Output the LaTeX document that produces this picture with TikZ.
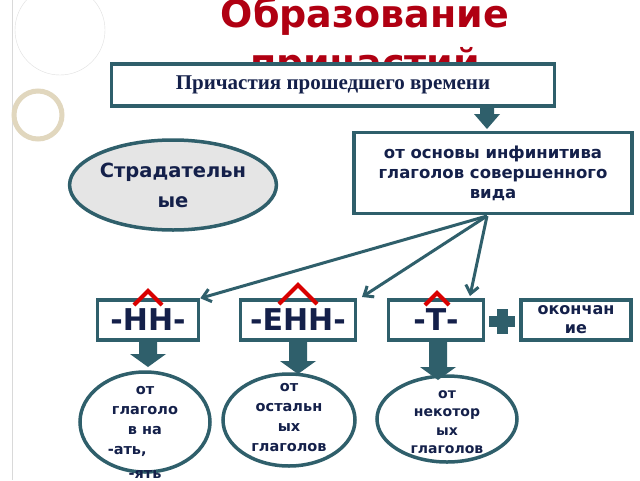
\documentclass[tikz,border=0pt]{standalone}
\usepackage{fontspec}
\setmainfont{Liberation Serif}
\newfontfamily\dv{DejaVu Sans}
\usetikzlibrary{shapes.geometric,arrows.meta}
\definecolor{teal1}{HTML}{2F5F6B}
\definecolor{navy}{HTML}{14204A}
\definecolor{redt}{HTML}{B00012}
\tikzset{
  box/.style={draw=teal1,line width=3.5pt,fill=white,text=navy,font=\dv\bfseries,align=center,inner sep=1pt},
  ell/.style={ellipse,draw=teal1,line width=3.5pt,fill=white,text=navy,align=center},
  etext/.style={text=navy,font=\dv\bfseries\fontsize{14.5}{20}\selectfont,align=center},
  conn/.style={draw=teal1,line width=3pt,-{Straight Barb[length=8pt,width=13pt]}},
  blk/.style={fill=teal1},
  caret/.style={draw=red!85!black,line width=4pt}
}
\begin{document}
\begin{tikzpicture}[x=1pt,y=-1pt]
\useasboundingbox (0,0) rectangle (640,480);
\fill[white] (0,0) rectangle (640,480);
% decoration
\draw[gray!30] (12,0) -- (12,480);
\draw[color={rgb,255:red,225;green,215;blue,190},line width=5pt] (38,115) circle (24);
\draw[gray!25] (60,30) circle (45);
% title
\node[font=\dv\bfseries\fontsize{38}{40}\selectfont,text=redt] (t1) at (365,16) {Образование};
\node[font=\dv\bfseries\fontsize{38}{40}\selectfont,text=redt] (t2) at (365,66) {причастий};
% top box
\node[box,font=\bfseries\fontsize{21}{23}\selectfont,minimum width=443pt,minimum height=42pt] (top) at (333,85) {Причастия прошедшего времени};
\fill[blk] (480,107) -- (494,107) -- (494,114) -- (500,114) -- (487,129) -- (474,114) -- (480,114) -- cycle;
\node[box,font=\dv\bfseries\fontsize{16.5}{20}\selectfont,minimum width=278pt,minimum height=81pt] (inf) at (493,173) {от основы инфинитива\\ глаголов совершенного\\ вида};
\node[ell,fill=gray!20,minimum width=200pt,minimum height=90pt,font=\dv\bfseries\fontsize{19.5}{30}\selectfont,inner sep=0pt] (strad) at (173,185) {Страдательн\\ые};
% suffix boxes
\node[box,font=\dv\bfseries\fontsize{30}{32}\selectfont,minimum width=101pt,minimum height=40pt] (nn) at (148,320) {-НН-};
\node[box,font=\dv\bfseries\fontsize{30}{32}\selectfont,minimum width=115pt,minimum height=40pt] (enn) at (298,320) {-ЕНН-};
\node[box,font=\dv\bfseries\fontsize{30}{32}\selectfont,minimum width=95pt,minimum height=40pt] (tt) at (436,320) {-Т-};
\node[box,font=\dv\bfseries\fontsize{16}{19}\selectfont,minimum width=110pt,minimum height=40pt,text width=104pt] (ok) at (576,320) {окончан\\ие};
\coordinate (src) at (487,216);
\draw[conn] (src) -- (nn.north east);
\draw[conn] (src) -- (362,297);
\draw[conn] (src) -- (470,296);
% carets
\draw[caret] (134,305) -- (148,291) -- (162,305);
\draw[caret] (279,304) -- (298,285) -- (317,304);
\draw[caret] (425,305) -- (437,293) -- (449,305);
% plus
\fill[teal1] (497,309) rectangle (508,334);
\fill[teal1] (489,316) rectangle (515,327);
% bottom ellipses
\node[ell,minimum width=130pt,minimum height=100pt] (e1) at (145,422) {};
\node[ell,minimum width=132pt,minimum height=92pt] (e2) at (289,420) {};
\node[ell,minimum width=140pt,minimum height=86pt] (e3) at (447,419) {};
\node[etext] (x1) at (145,432) {от\\глаголо\\в на\\ -ать,\phantom{глаг}\\[4pt] -ять};
\node[etext] (x2) at (289,418) {от\\остальн\\ых\\глаголов};
\node[etext,font=\dv\bfseries\fontsize{14}{18.5}\selectfont] (x3) at (447,422) {от\\некотор\\ых\\глаголов};
% block arrows
\foreach \x/\y/\h in {148/342/25, 298/342/32, 438/342/38}{
  \fill[teal1] (\x-9,\y) -- (\x+9,\y) -- (\x+9,\y+\h-13) -- (\x+18,\y+\h-13) -- (\x,\y+\h) -- (\x-18,\y+\h-13) -- (\x-9,\y+\h-13) -- cycle;
}
\end{tikzpicture}
\end{document}
